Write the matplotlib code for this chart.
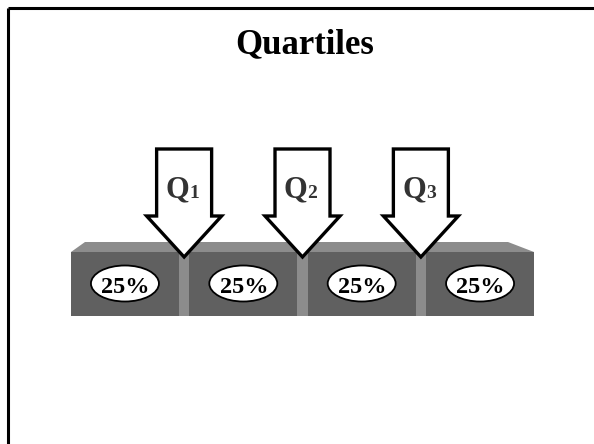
import matplotlib
matplotlib.use("Agg")
import matplotlib.pyplot as plt
from matplotlib.patches import Polygon, Rectangle, Ellipse
import numpy as np

plt.rcParams["font.family"] = ["Liberation Serif", "DejaVu Serif"]

# Data
title = "Quartiles"
shares = [25, 25, 25, 25]
share_labels = ["25%", "25%", "25%", "25%"]
quartile_names = ["1", "2", "3"]

# Canvas in pixel units
fig = plt.figure(figsize=(5.94, 4.44), dpi=100)
ax = fig.add_axes([0, 0, 1, 1])
ax.set_xlim(0, 594)
ax.set_ylim(444, 0)
ax.axis("off")

# Slide border (top and left edges)
ax.plot([7.5, 594], [8, 8], color="black", lw=2.2, solid_capstyle="butt")
ax.plot([7.5, 7.5], [8, 444], color="black", lw=2.2, solid_capstyle="butt")

ax.text(304.5, 53, title, ha="center", va="baseline", fontsize=25,
        fontweight="bold", color="black")

# Block geometry
x0, x1 = 71, 534
y_top, y_bot = 252, 316
depth_top = 242
gap = 10.5
front = "#606060"
light = "#8c8c8c"

n = len(shares)
seg_total = (x1 - x0) - gap * (n - 1)
cum = np.concatenate([[0], np.cumsum(shares)]) / sum(shares)

# Top face of the block
ax.add_patch(Polygon([(x0, y_top), (x0 + 14, depth_top), (x1 - 26, depth_top), (x1, y_top)],
                     closed=True, facecolor=light, edgecolor="none", zorder=1))
# Lighter base behind the segments forms the separators
ax.add_patch(Rectangle((x0, y_top), x1 - x0, y_bot - y_top, facecolor=light,
                       edgecolor="none", zorder=1))

quartile_x = []
for i in range(n):
    left = x0 + seg_total * cum[i] + gap * i
    right = x0 + seg_total * cum[i + 1] + gap * i
    ax.add_patch(Rectangle((left, y_top), right - left, y_bot - y_top,
                           facecolor=front, edgecolor="none", zorder=2))
    cx = (left + right) / 2
    ax.add_patch(Ellipse((cx, 283.5), 68, 36, facecolor="white", edgecolor="black",
                         lw=1.3, zorder=3))
    ax.text(cx + 0.5, 293, share_labels[i], ha="center", va="baseline", fontsize=17.5,
            fontweight="bold", color="black", zorder=4)
    if i < n - 1:
        quartile_x.append(right + gap / 2)

# Downward arrows marking the quartiles
for qx, name in zip(quartile_x, quartile_names):
    sw, hw = 27.5, 37.5
    top, neck, tip = 149, 216, 257
    pts = [(qx - sw, top), (qx + sw, top), (qx + sw, neck), (qx + hw, neck),
           (qx, tip), (qx - hw, neck), (qx - sw, neck)]
    ax.add_patch(Polygon(pts, closed=True, facecolor="white", edgecolor="black",
                         lw=2.4, joinstyle="miter", zorder=5))
    ax.text(qx + 5, 197, "Q", ha="right", va="baseline", fontsize=22,
            fontweight="bold", color="#333333", zorder=6)
    ax.text(qx + 5, 198, name, ha="left", va="baseline", fontsize=14,
            fontweight="bold", color="#333333", zorder=6)

fig.savefig("out.png", dpi=100)
